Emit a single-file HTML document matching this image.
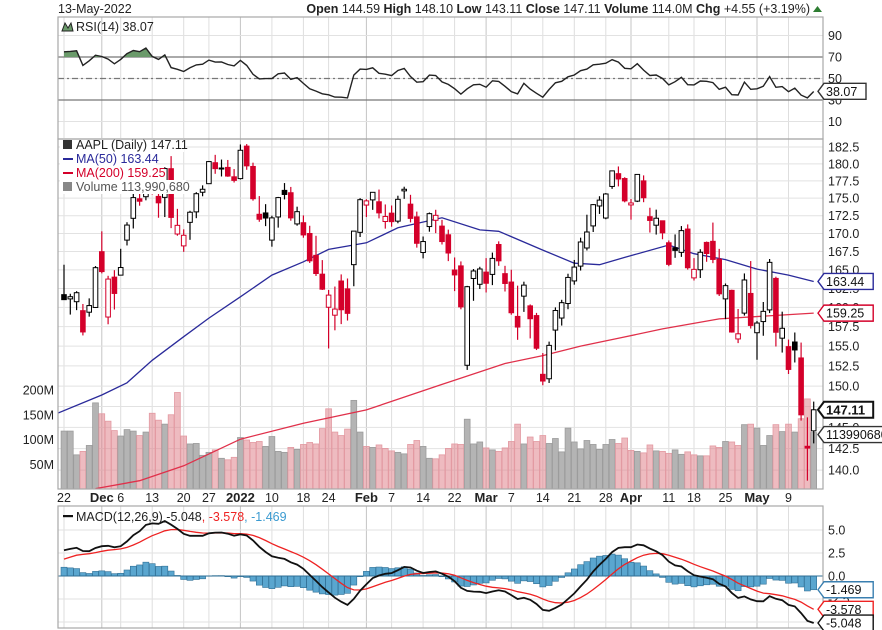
<!DOCTYPE html>
<html><head><meta charset="utf-8"><style>
body{margin:0;background:#fff;}
svg{display:block;font-family:"Liberation Sans",sans-serif;}
</style></head><body>
<svg id="c" width="882" height="630" viewBox="0 0 882 630" xmlns="http://www.w3.org/2000/svg">
<text x="58" y="13" font-size="12.5" fill="#222">13-May-2022</text>
<text x="810" y="13" font-size="12.5" fill="#222" text-anchor="end"><tspan font-weight="bold">Open</tspan> 144.59  <tspan font-weight="bold">High</tspan> 148.10  <tspan font-weight="bold">Low</tspan> 143.11  <tspan font-weight="bold">Close</tspan> 147.11  <tspan font-weight="bold">Volume</tspan> 114.0M  <tspan font-weight="bold">Chg</tspan> +4.55 (+3.19%)</text>
<path d="M813 12 L817.5 6 L822 12 Z" fill="#2e7d32"/>
<g id="grid"></g>
<g id="rsi"></g>
<g id="price"></g>
<g id="macd"></g>
<g id="frames"></g>
<g id="axes"></g>
</svg>
<script>
// ---- data (Nov 22 2021 .. May 13 2022) ----
const openP=[161.68,161.12,160.75,159.57, 159.37,159.99,167.48,158.74,164.02, 164.29,169.08,172.13,174.91,175.21, 181.12,175.25,175.11,179.28,169.93, 168.28,171.56,173.04,175.85, 177.09,180.16,179.33,179.47,178.09,
177.83,182.63,179.61,172.70,172.89, 169.08,172.32,176.12,175.78,171.34, 171.51,170.00,166.98,164.42, 160.02,158.98,163.50,162.45,165.71, 170.16,174.01,174.75,174.48,171.68,
172.86,171.73,176.05,174.14,172.33, 167.37,170.97,171.85,171.03,169.82, 164.98,165.54,152.58,163.84, 163.06,164.70,164.39,168.47,164.49,
163.36,158.82,161.48,160.20,158.93, 151.45,150.90,157.05,158.61,160.51, 163.51,165.51,167.99,171.06,173.88, 172.17,176.69,178.55,177.84,174.03,
174.57,177.50,172.36,171.16,171.78, 168.71,168.02,167.39,170.62, 163.92,165.02,168.76,168.91,166.46, 161.12,162.25,155.91,159.25,161.84, 156.71,158.15,159.67,163.85,156.01, 154.93,155.52,153.50,142.77,144.59];
const highP=[165.70,161.80,162.14,160.45, 161.19,165.52,170.30,164.20,164.96, 167.88,171.58,175.96,176.75,179.63, 182.13,177.74,179.50,181.14,173.47, 170.58,173.20,175.86,176.85, 180.42,181.33,180.63,180.57,179.23,
182.88,182.94,180.17,175.30,174.14, 172.50,175.18,177.18,176.62,173.78, 172.54,171.08,169.68,166.33, 162.30,162.76,164.39,163.84,170.35, 175.00,174.84,175.88,176.24,174.10,
173.95,175.35,176.65,175.48,173.08, 169.58,172.95,173.34,171.91,170.54, 166.69,166.15,162.85,165.12, 165.42,166.60,167.36,168.91,165.55,
165.02,162.88,163.41,160.39,159.28, 154.12,155.57,160.00,161.00,164.48, 166.35,169.42,172.64,174.14,175.28, 175.73,179.01,179.61,178.03,174.88,
178.49,178.30,173.63,173.36,171.78, 169.03,169.87,171.04,171.27, 166.60,167.82,168.88,171.53,167.87, 163.17,162.34,159.79,164.52,166.20, 158.23,160.71,166.48,164.08,159.44, 155.83,156.74,155.45,146.20,148.10];
const lowP=[161.00,159.06,159.64,156.36, 158.79,159.92,164.53,157.80,159.72, 164.28,168.34,170.70,173.92,174.69, 175.53,172.21,172.31,170.75,169.69, 167.46,169.12,172.15,175.27, 177.07,178.53,178.14,178.09,177.26,
177.71,179.12,174.64,171.64,171.03, 168.17,170.82,174.82,171.79,171.09, 169.41,165.94,164.18,162.30, 154.70,157.02,157.82,158.28,162.80, 169.51,172.31,173.33,172.12,170.68,
170.95,171.43,174.90,171.55,168.04, 166.56,170.25,170.05,168.47,166.19, 162.15,159.75,152.00,160.87, 162.43,161.97,162.95,165.55,162.10,
159.04,155.80,159.41,155.98,154.50, 150.10,150.38,154.46,157.63,159.76, 163.01,164.91,167.65,170.21,172.75, 172.00,176.34,176.70,174.40,171.94,
174.44,174.42,170.13,169.85,169.20, 165.50,166.64,166.77,165.04, 163.57,163.91,166.10,165.91,161.50, 158.46,156.72,155.38,158.93,157.25, 153.27,156.32,159.26,154.95,154.18, 151.49,152.93,145.81,138.80,143.11];
const closeP=[161.02,161.41,161.94,156.81, 160.24,165.30,164.77,163.76,161.84, 165.32,171.18,175.08,174.56,179.45, 175.74,174.33,179.30,172.26,171.14, 169.75,172.99,175.64,176.28, 180.33,179.29,179.38,178.20,177.57,
182.01,179.70,174.92,172.00,172.17, 172.19,175.08,175.53,172.19,173.07, 169.80,166.23,164.51,162.41, 161.62,159.78,159.69,159.22,170.33, 174.78,174.61,175.84,172.90,172.39,
171.66,174.83,176.28,172.12,168.64, 168.88,172.79,172.55,168.88,167.30, 164.32,160.07,162.74,164.85, 165.12,163.20,166.56,166.23,163.17,
159.30,157.44,162.95,158.52,154.73, 150.62,155.09,159.59,160.62,163.98, 165.38,168.82,170.21,174.07,174.72, 175.60,178.96,177.77,174.61,174.31,
178.44,175.06,171.83,172.14,170.09, 165.75,167.66,170.40,165.29, 165.07,167.40,167.23,166.42,161.79, 162.88,156.80,156.57,163.64,157.65, 157.96,159.48,166.02,156.77,157.28, 152.06,154.51,146.50,142.56,147.11];
const volumeM=[117,117,69,76, 88,174,152,137,118, 107,120,117,108,115, 153,139,131,150,195, 107,91,92,68, 74,79,62,59,64,
104,99,94,96,86, 106,76,74,84,80, 90,94,91,122, 162,115,108,121,179, 115,86,84,89,82,
77,74,71,90,98, 86,62,61,69,82, 91,90,141,91, 95,83,79,76,83,
96,131,91,105,96, 108,92,102,75,123, 95,81,98,90,80, 90,100,92,103,78,
76,73,89,77,76, 72,79,70,75, 69,67,67,87,84, 96,95,88,130,131, 123,88,108,130,116, 131,115,142,182,114];
const prevClose=160.55;
const lastRsi=38.07;
// moving averages sampled from the chart: [day index, value]
const ma50Idx=[-1,6,10,14,19,23,28,33,38,42,48,53,60,66,69,76,81,85,89,96,100,105,110,115,119];
const ma50Val=[146.7,148.9,150.4,153.2,156.2,158.6,161.4,164.3,166.1,167.8,168.7,170.8,172.2,170.5,170.3,167.7,165.9,165.7,166.7,168.4,167.2,166.4,165.1,164.3,163.44];
const ma200Idx=[5,12,19,28,38,48,60,70,76,82,88,95,104,119];
const ma200Val=[137.9,138.8,140.5,143.6,145.5,147.1,150.2,152.8,153.8,155.0,156.0,157.2,158.5,159.25];
const rsiTicks=[90,70,50,30,10];
const priceTicks=[182.5,180,177.5,175,172.5,170,167.5,165,162.5,160,157.5,155,152.5,150,147.5,145,142.5,140];
const volTicks=[200,150,100,50];
const macdTicks=[5,2.5,0,-2.5,-5];
const dateLabels=[[0,'22',0],[6,'Dec',1],[9,'6',0],[14,'13',0],[19,'20',0],[23,'27',0],[28,'2022',1],[33,'10',0],[38,'18',0],[42,'24',0],[48,'Feb',1],[52,'7',0],[57,'14',0],[62,'22',0],[67,'Mar',1],[71,'7',0],[76,'14',0],[81,'21',0],[86,'28',0],[90,'Apr',1],[96,'11',0],[100,'18',0],[105,'25',0],[110,'May',1],[115,'9',0]];

// ---- layout ----
const L=58,R=823;
const X=i=>64+i*6.3;
const ry=v=>78.5-(v-50)*1.075;
const LN=Math.log(182.5);
const py=p=>147+(LN-Math.log(p))*1219;
const vy=v=>489-v*0.495;
const my=v=>576-v*9.2;
const NS='http://www.w3.org/2000/svg';
function mk(tag,attrs,parent){const e=document.createElementNS(NS,tag);for(const k in attrs)e.setAttribute(k,attrs[k]);parent.appendChild(e);return e;}
const G=id=>document.getElementById(id);
const svg=G('c');
const defs=mk('defs',{},svg);
const cp1=mk('clipPath',{id:'cpPrice'},defs);mk('rect',{x:L,y:139,width:R-L,height:350},cp1);
const cp2=mk('clipPath',{id:'cpMacd'},defs);mk('rect',{x:L,y:506,width:R-L,height:122},cp2);
const cp3=mk('clipPath',{id:'cpRsiHi'},defs);mk('rect',{x:L,y:17,width:R-L,height:ry(70)-17},cp3);

// grid
const grid=G('grid');
const panels=[[17,139],[139,489],[506,628]];
dateLabels.forEach(d=>{panels.forEach(p=>{const l=mk('line',{x1:X(d[0]),x2:X(d[0]),y1:p[0],y2:p[1],stroke:d[2]?'#c4c4c4':'#dedede','stroke-width':1},grid);

});});
rsiTicks.forEach(t=>{const l=mk('line',{x1:L,x2:R,y1:ry(t),y2:ry(t),stroke:'#e2e2e2'},grid);});
priceTicks.forEach(t=>{const l=mk('line',{x1:L,x2:R,y1:py(t),y2:py(t),stroke:'#e2e2e2'},grid);});
macdTicks.forEach(t=>{const l=mk('line',{x1:L,x2:R,y1:my(t),y2:my(t),stroke:'#e2e2e2'},grid);});

// ---- RSI ----
const rsiG=G('rsi');
let ag=1.6,al=0.55,pc=prevClose;const rsi=[];
closeP.forEach(c=>{const d=c-pc;pc=c;ag=(ag*13+Math.max(d,0))/14;al=(al*13+Math.max(-d,0))/14;rsi.push(100-100/(1+ag/al));});
[[70,'#777',''],[30,'#777',''],[50,'#777','6 3 2 3']].forEach(s=>{const l=mk('line',{x1:L,x2:R,y1:ry(s[0]),y2:ry(s[0]),stroke:s[1],'stroke-width':1.3,'stroke-dasharray':s[2]},rsiG);});
let rp=rsi.map((v,i)=>X(i).toFixed(1)+','+ry(v).toFixed(1));
const fill=mk('polygon',{points:X(0)+','+ry(70)+' '+rp.join(' ')+' '+X(rsi.length-1)+','+ry(70),fill:'#6a9a6a','clip-path':'url(#cpRsiHi)',stroke:'none'},rsiG);

const rl=mk('polyline',{points:rp.join(' '),fill:'none',stroke:'#222','stroke-width':1.4},rsiG);


// ---- price panel ----
const pg=mk('g',{'clip-path':'url(#cpPrice)'},G('price'));
closeP.forEach((c,i)=>{const prev=i?closeP[i-1]:prevClose;const down=c<prev;
 const r=mk('rect',{x:X(i)-2.9,y:vy(volumeM[i]),width:5.8,height:volumeM[i]*0.495,fill:down?'rgba(222,120,130,0.5)':'#b4b4b4',stroke:down?'#e39aa2':'#9c9c9c','stroke-width':0.8},pg);
 });
const ma200=mk('polyline',{points:ma200Idx.map((d,k)=>X(d)+','+py(ma200Val[k]).toFixed(1)).join(' '),fill:'none',stroke:'#e0304a','stroke-width':1.3},pg);

const ma50=mk('polyline',{points:ma50Idx.map((d,k)=>X(d)+','+py(ma50Val[k]).toFixed(1)).join(' '),fill:'none',stroke:'#2a2a9a','stroke-width':1.3},pg);

closeP.forEach((c,i)=>{const o=openP[i];const prev=i?closeP[i-1]:prevClose;const col=c<prev?'#d4002a':'#000';const hollow=c>o;
 const g=mk('g',{},pg);
 
 mk('line',{x1:X(i),x2:X(i),y1:py(highP[i]),y2:py(lowP[i]),stroke:col,'stroke-width':1.2},g);
 const t=py(Math.max(o,c)),b=py(Math.min(o,c));
 mk('rect',{x:X(i)-2.3,y:t,width:4.6,height:Math.max(b-t,1),fill:hollow?'#fff':col,stroke:col,'stroke-width':1},g);});
const lg=G('price');
[['AAPL (Daily) 147.11','#222',149,124],['MA(50) 163.44','#2a2a9a',163,96],['MA(200) 159.25','#d4002a',177,104],['Volume 113,990,680','#555',191,126]].forEach((s,k)=>{
 mk('rect',{x:60,y:s[2]-11,width:s[3],height:14,fill:'#fff'},lg);
 const t=mk('text',{x:76,y:s[2],'font-size':12.5,fill:s[1]},lg);t.textContent=s[0];
 
 if(k==1||k==2)mk('rect',{x:63,y:s[2]-5,width:10,height:2,fill:s[1]},lg);
 else mk('rect',{x:63,y:s[2]-9,width:9,height:9,fill:k==0?'#333':'#888'},lg);});

// ---- MACD ----
const mg=mk('g',{'clip-path':'url(#cpMacd)'},G('macd'));
let e12=156.2,e26=153.6,sg=1.6;const mac=[],sig=[];
closeP.forEach(c=>{e12+=(c-e12)*2/13;e26+=(c-e26)*2/27;const m=e12-e26;sg+=(m-sg)*0.2;mac.push(m);sig.push(sg);});
mac.forEach((m,i)=>{const h=m-sig[i];const r=mk('rect',{x:X(i)-3,y:Math.min(my(h),my(0)),width:6,height:Math.abs(my(h)-my(0)),fill:'#5aa6cf',stroke:'#2f6f95','stroke-width':0.6},mg);
 });
const zl=mk('line',{x1:L,x2:R,y1:my(0),y2:my(0),stroke:'#2f6f95','stroke-width':1},mg);
const sl=mk('polyline',{points:sig.map((v,i)=>X(i).toFixed(1)+','+my(v).toFixed(1)).join(' '),fill:'none',stroke:'#ee2222','stroke-width':1.3},mg);

const ml=mk('polyline',{points:mac.map((v,i)=>X(i).toFixed(1)+','+my(v).toFixed(1)).join(' '),fill:'none',stroke:'#111','stroke-width':1.8},mg);

const mt=mk('text',{x:76,y:521,'font-size':12.5,fill:'#222'},G('macd'));

mt.innerHTML='MACD(12,26,9) -5.048<tspan fill="#e22">, -3.578</tspan><tspan fill="#3a9ad0">, -1.469</tspan>';
mk('rect',{x:63,y:515,width:10,height:2.2,fill:'#111'},G('macd'));

// frames
const fr=G('frames');
panels.forEach((p,k)=>{const r=mk('rect',{x:L,y:p[0],width:R-L,height:p[1]-p[0],fill:'none',stroke:'#a8a8a8','stroke-width':1.2},fr);
 });
const rt=mk('text',{x:76,y:31,'font-size':12.5,fill:'#222'},fr);rt.textContent='RSI(14) 38.07';

mk('path',{d:'M62 31 L65 23 L68 28 L71 23 L73 31 Z',fill:'#6a9a6a',stroke:'#222','stroke-width':1},fr);

// axes
const ax=G('axes');
function tx(x,y,s,o){const t=mk('text',Object.assign({x:x,y:y,'font-size':12.5,fill:'#222'},o||{}),ax);t.textContent=s;return t;}
rsiTicks.forEach(v=>{const t=tx(828,ry(v)+4.5,String(v));});
priceTicks.forEach(v=>{const t=tx(828,py(v)+4.5,v.toFixed(1));});
volTicks.forEach(v=>{const t=tx(54,vy(v)+4.5,v+'M',{'text-anchor':'end'});});
macdTicks.forEach(v=>{const t=tx(828,my(v)+4.5,v.toFixed(1));});
dateLabels.forEach(d=>{const t=tx(X(d[0]),502,d[1],{'text-anchor':'middle','font-weight':d[2]?'bold':'normal','font-size':d[2]?13:12.5});});
function tag(y,s,col,bold,name){const w=s.length*7.2+6;const g=mk('g',{},ax);
 
 mk('path',{d:`M818 ${y} L824 ${y-8} L${824+w} ${y-8} L${824+w} ${y+8} L824 ${y+8} Z`,fill:'#fff',stroke:col,'stroke-width':bold?2:1.4},g);
 const t=mk('text',{x:826,y:y+4.5,'font-size':bold?13:12.5,'font-weight':bold?'bold':'normal',fill:'#111'},g);t.textContent=s;}
tag(ry(lastRsi),lastRsi.toFixed(2),'#333',false,'rsi-value-tag');
tag(py(ma50Val[ma50Val.length-1]),'163.44','#2a2a9a',false,'ma50-value-tag');
tag(py(ma200Val[ma200Val.length-1]),'159.25','#d4002a',false,'ma200-value-tag');
tag(py(closeP[closeP.length-1]),'147.11','#111',true,'last-price-tag');
tag(vy(volumeM[volumeM.length-1])+2,'113990680','#333',false,'volume-value-tag');
tag(my(mac[mac.length-1]-sig[sig.length-1]),'-1.469','#3a7fb0',false,'macd-histogram-tag');
tag(my(sig[sig.length-1]),'-3.578','#e22',false,'macd-signal-tag');
tag(my(mac[mac.length-1]),'-5.048','#111',false,'macd-value-tag');
</script>
</body></html>
